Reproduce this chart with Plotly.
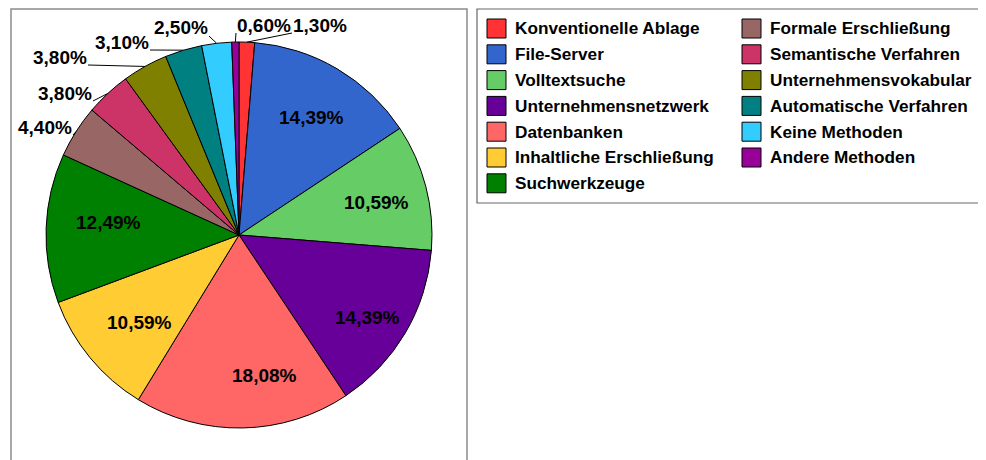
import math
import plotly.graph_objects as go

# ---------------- data ----------------
categories = [
    "Konventionelle Ablage", "File-Server", "Volltextsuche", "Unternehmensnetzwerk",
    "Datenbanken", "Inhaltliche Erschließung", "Suchwerkzeuge", "Formale Erschließung",
    "Semantische Verfahren", "Unternehmensvokabular", "Automatische Verfahren",
    "Keine Methoden", "Andere Methoden",
]
values = [1.30, 14.39, 10.59, 14.39, 18.08, 10.59, 12.49, 4.40, 3.80, 3.80, 3.10, 2.50, 0.60]
value_labels = ["1,30%", "14,39%", "10,59%", "14,39%", "18,08%", "10,59%", "12,49%",
                "4,40%", "3,80%", "3,80%", "3,10%", "2,50%", "0,60%"]

# ---------------- style ----------------
colors = ["#FF3333", "#3366CC", "#66CC66", "#660099", "#FF6666", "#FFCC33", "#008000",
          "#996666", "#CC3366", "#808000", "#008080", "#33CCFF", "#990099"]
OFF = 8                            # default body margin of the html page
W, H = 986 - OFF, 460 - OFF
CX, CY, R = 239, 235, 193          # pie centre / radius in window pixels
FONT = "Liberation Sans, Arial, sans-serif"
INSIDE_R = 0.72
# small nudges (pixels) applied to the inside labels
inside_nudges = {1: (2, 2), 2: (3, 2), 3: (9, 12), 4: (23, 2), 5: (8, -1), 6: (8, -8)}
# outside labels: text-centre offset from pie centre (pixels)
outside_offsets = {
    0: (81, -210), 12: (25, -210), 11: (-58, -207), 10: (-117, -193),
    9: (-179, -178), 8: (-174, -142), 7: (-194, -108),
}
TEXT_HALF_W = 28


def px(x):
    return (x - OFF) / W


def py(y):
    return 1 - (y - OFF) / H


fig = go.Figure()
fig.add_trace(go.Pie(
    labels=categories, values=values, sort=False, direction="clockwise", rotation=0,
    marker=dict(colors=colors, line=dict(color="#000000", width=1)),
    textinfo="none", hoverinfo="label+percent", showlegend=False,
    domain=dict(x=[px(CX - R), px(CX + R)], y=[py(CY + R), py(CY - R)]),
))

total = sum(values)
annotations = []
shapes = []
cum = 0.0
for i, v in enumerate(values):
    mid = (cum + v / 2) / total * 2 * math.pi
    cum += v
    s, c = math.sin(mid), math.cos(mid)
    if i in outside_offsets:
        dx, dy = outside_offsets[i]
        tx, ty = CX + dx, CY + dy
        ex, ey = CX + R * s, CY - R * c
        lx = tx - TEXT_HALF_W if tx > ex else tx + TEXT_HALF_W
        ly = ty + 8
        shapes.append(dict(type="line", xref="paper", yref="paper",
                           x0=px(ex), y0=py(ey), x1=px(lx), y1=py(ly),
                           line=dict(color="#000000", width=1)))
    else:
        nx, ny = inside_nudges.get(i, (0, 0))
        tx, ty = CX + INSIDE_R * R * s + nx, CY - INSIDE_R * R * c + ny
    annotations.append(dict(x=px(tx), y=py(ty), xref="paper", yref="paper",
                            text=value_labels[i], showarrow=False,
                            xanchor="center", yanchor="middle",
                            font=dict(family=FONT, size=19, color="#000000", weight="bold")))

# frames
shapes.append(dict(type="rect", xref="paper", yref="paper",
                   x0=px(11), y0=py(475), x1=px(467), y1=py(9),
                   line=dict(color="#8c8c8c", width=1.5), layer="below"))
shapes.append(dict(type="rect", xref="paper", yref="paper",
                   x0=px(477), y0=py(203), x1=px(995), y1=py(9),
                   line=dict(color="#666666", width=1.2), layer="below"))

# legend (two columns, drawn manually)
LEG_X = [487, 742]
LEG_Y0, LEG_DY, SQ = 28.5, 25.8, 19
ROWS = 7
for i, name in enumerate(categories):
    col, row = divmod(i, ROWS)
    x0 = LEG_X[col]
    yc = LEG_Y0 + row * LEG_DY
    shapes.append(dict(type="rect", xref="paper", yref="paper",
                       x0=px(x0), x1=px(x0 + SQ), y0=py(yc + SQ / 2), y1=py(yc - SQ / 2),
                       fillcolor=colors[i], line=dict(color="#000000", width=1)))
    annotations.append(dict(x=px(x0 + SQ + 7), y=py(yc), xref="paper", yref="paper",
                            text=name, showarrow=False, xanchor="left", yanchor="middle",
                            font=dict(family=FONT, size=17.2, color="#000000", weight="bold")))

fig.update_layout(
    width=W, height=H, margin=dict(l=0, r=0, t=0, b=0),
    paper_bgcolor="#FFFFFF", plot_bgcolor="#FFFFFF",
    annotations=annotations, shapes=shapes, showlegend=False,
)
fig.write_html("out.html")
